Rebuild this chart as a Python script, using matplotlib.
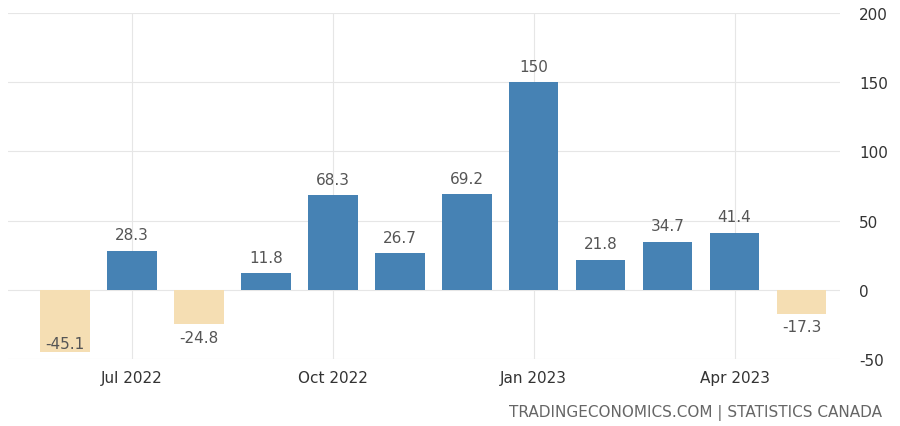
import matplotlib.pyplot as plt

plt.rcParams["axes.unicode_minus"] = False

months = ["Jun 2022", "Jul 2022", "Aug 2022", "Sep 2022", "Oct 2022", "Nov 2022",
          "Dec 2022", "Jan 2023", "Feb 2023", "Mar 2023", "Apr 2023", "May 2023"]
values = [-45.1, 28.3, -24.8, 11.8, 68.3, 26.7, 69.2, 150, 21.8, 34.7, 41.4, -17.3]
labels = ["-45.1", "28.3", "-24.8", "11.8", "68.3", "26.7", "69.2", "150", "21.8", "34.7", "41.4", "-17.3"]
tick_idx = [1, 4, 7, 10]
tick_labels = ["Jul 2022", "Oct 2022", "Jan 2023", "Apr 2023"]

fig = plt.figure(figsize=(9, 4.27), dpi=100)
ax = fig.add_axes([0.009, 0.157, 0.924, 0.81])

x = list(range(len(values)))
colors = ["#4682B4" if v >= 0 else "#F5DEB3" for v in values]
ax.bar(x, values, width=0.74, color=colors, zorder=3)

for i, v in enumerate(values):
    if v >= 0:
        ax.text(i, v + 6, labels[i], ha="center", va="bottom", color="#555555", fontsize=11, zorder=4)
    elif v < -40:
        ax.text(i, v + 1, labels[i], ha="center", va="bottom", color="#555555", fontsize=11, zorder=4)
    else:
        ax.text(i, v - 4, labels[i], ha="center", va="top", color="#555555", fontsize=11, zorder=4)

ax.set_xlim(-0.85, 11.57)
ax.set_ylim(-50, 200)
ax.set_yticks([-50, 0, 50, 100, 150, 200])
ax.yaxis.tick_right()
ax.set_xticks(tick_idx)
ax.set_xticklabels(tick_labels)
ax.tick_params(length=0, labelsize=11, colors="#333333", pad=8)
ax.tick_params(axis="y", pad=14)
ax.grid(True, color="#e6e6e6", linewidth=0.8, zorder=0)
for s in ax.spines.values():
    s.set_visible(False)

fig.text(0.98, 0.015, "TRADINGECONOMICS.COM | STATISTICS CANADA", ha="right",
         va="bottom", color="#666666", fontsize=11)

fig.savefig("out.png", dpi=100)
